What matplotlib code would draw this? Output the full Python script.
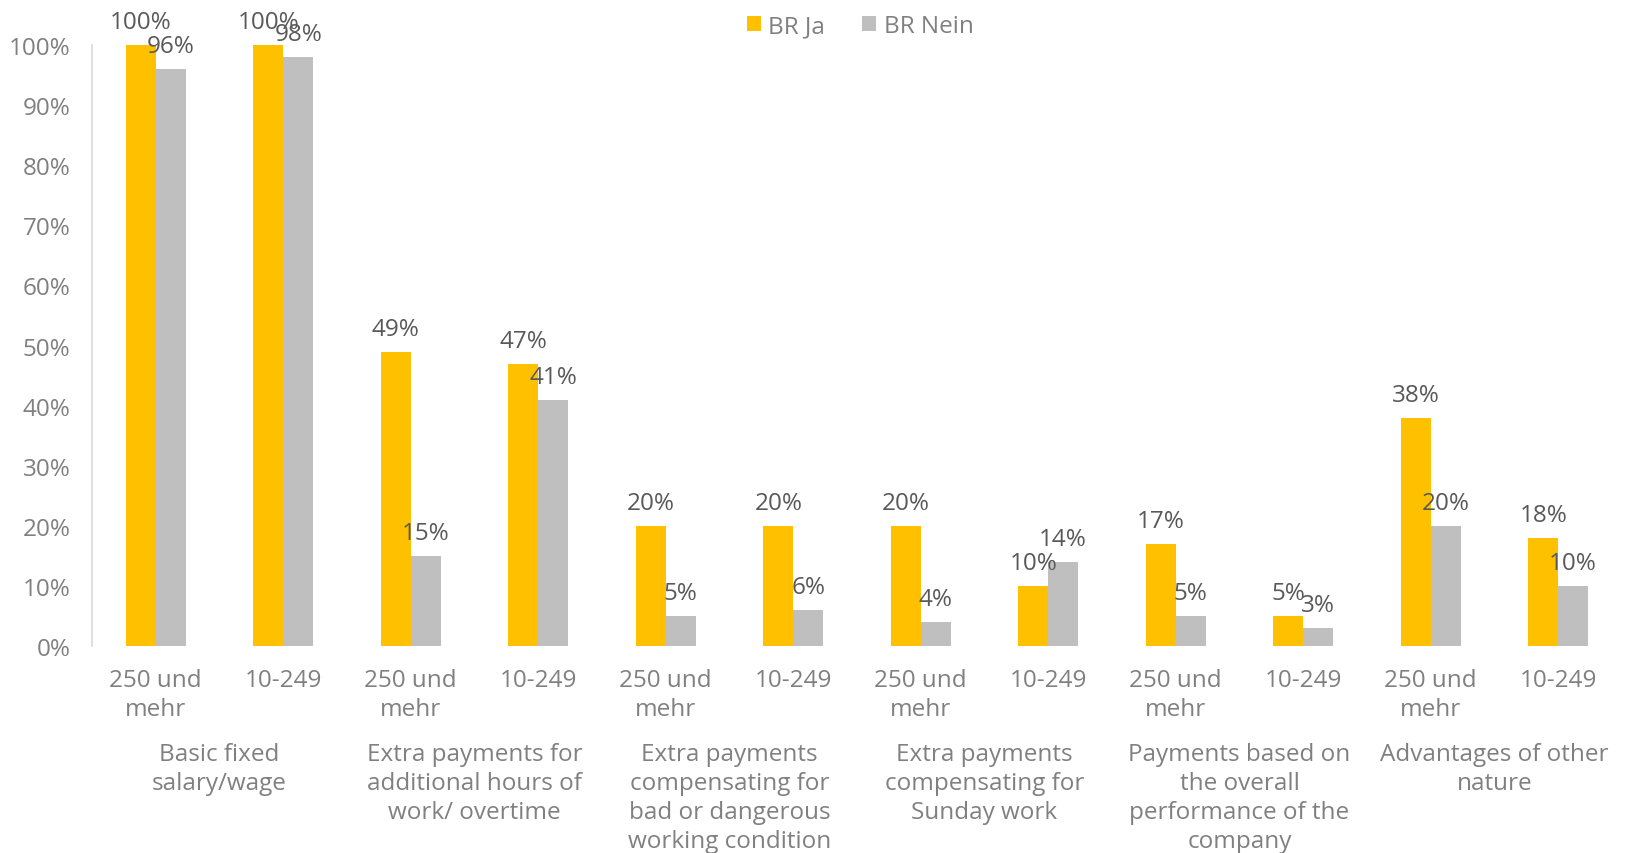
import matplotlib.pyplot as plt
import numpy as np

plt.rcParams['font.family'] = ['Open Sans', 'DejaVu Sans']

sizes = ['250 und\nmehr', '10-249'] * 6
categories = [
    'Basic fixed\nsalary/wage',
    'Extra payments for\nadditional hours of\nwork/ overtime',
    'Extra payments\ncompensating for\nbad or dangerous\nworking condition',
    'Extra payments\ncompensating for\nSunday work',
    'Payments based on\nthe overall\nperformance of the\ncompany',
    'Advantages of other\nnature',
]
br_ja = [100, 100, 49, 47, 20, 20, 20, 10, 17, 5, 38, 18]
br_nein = [96, 98, 15, 41, 5, 6, 4, 14, 5, 3, 20, 10]

YELLOW = '#FFC000'
GREY = '#BFBFBF'
TICK_COL = '#808080'
LABEL_COL = '#595959'
FS = 17.5

fig = plt.figure(figsize=(16.28, 8.54), dpi=100)
ax = fig.add_axes([92 / 1628, (854 - 647) / 854, (1622 - 92) / 1628, (647 - 46) / 854])

x = np.arange(len(sizes))
w = 0.235
b1 = ax.bar(x - w / 2, np.array(br_ja) / 100, w, color=YELLOW, label='BR Ja')
b2 = ax.bar(x + w / 2, np.array(br_nein) / 100, w, color=GREY, label='BR Nein')

# value labels above each bar
for bars, vals in ((b1, br_ja), (b2, br_nein)):
    for rect, v in zip(bars, vals):
        ax.annotate(f'{v}%', (rect.get_x() + rect.get_width() / 2, v / 100),
                    xytext=(0, 12), textcoords='offset points',
                    ha='center', va='baseline', fontsize=FS, color=LABEL_COL,
                    annotation_clip=False)

ax.set_xlim(-0.5, len(sizes) - 0.5)
ax.set_ylim(0, 1)
ax.set_yticks(np.arange(0, 1.01, 0.1))
ax.set_yticklabels([f'{int(round(t * 100))}%' for t in np.arange(0, 1.01, 0.1)])
ax.set_xticks(x)
ax.set_xticklabels(sizes, linespacing=1.24)
ax.tick_params(axis='both', length=0, labelsize=FS, labelcolor=TICK_COL)
ax.tick_params(axis='x', pad=16)
ax.tick_params(axis='y', pad=15.5)

for s in ('top', 'right', 'bottom'):
    ax.spines[s].set_visible(False)
ax.spines['left'].set_color('#D9D9D9')
ax.spines['left'].set_linewidth(1.2)

# group captions under the size labels
for i, cat in enumerate(categories):
    ax.annotate(cat, (2 * i + 0.5, 0), xycoords=('data', 'axes fraction'),
                xytext=(0, -69), textcoords='offset points',
                ha='center', va='top', fontsize=FS, color=TICK_COL,
                linespacing=1.28, annotation_clip=False)

leg = fig.legend(handles=[b1, b2], loc='center', bbox_to_anchor=(860 / 1628, 1 - 27 / 854),
                 ncol=2, frameon=False, fontsize=FS, handlelength=0.6, handleheight=0.6,
                 handletextpad=0.3, columnspacing=1.5)
for t in leg.get_texts():
    t.set_color(TICK_COL)

fig.savefig('out.png', dpi=100)
